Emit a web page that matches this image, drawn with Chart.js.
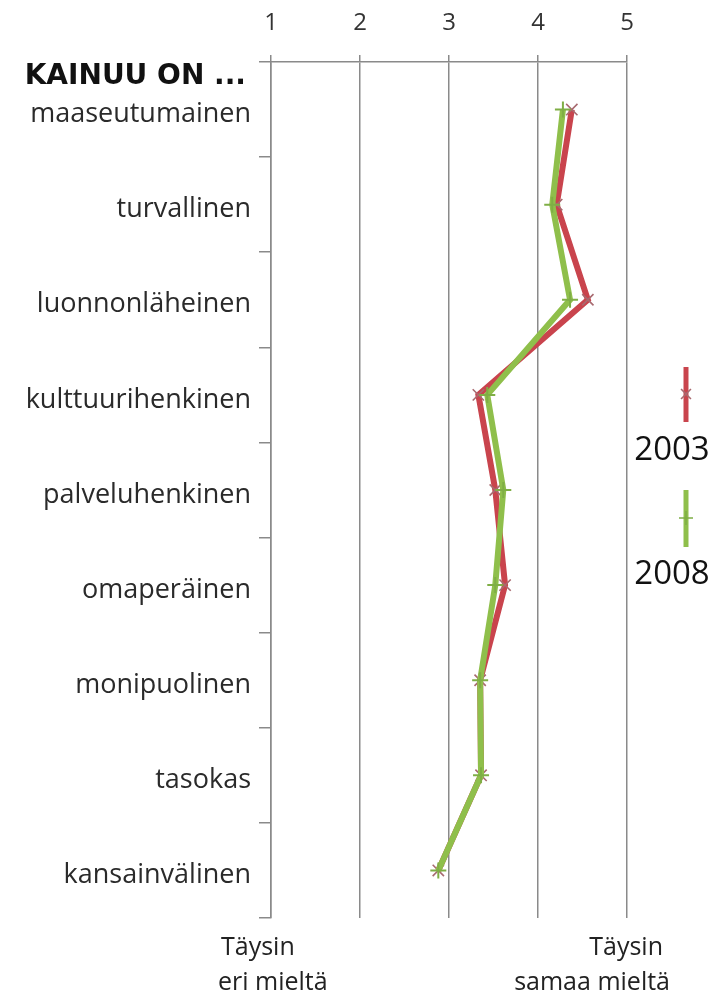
<!DOCTYPE html>
<html><head><meta charset="utf-8">
<script src="https://cdn.jsdelivr.net/npm/chart.js@4"></script>
<style>html,body{margin:0;padding:0;background:#fff}#wrap{width:714px;height:996px;position:relative}</style>
</head><body><div id="wrap"><canvas id="c" width="714" height="996"></canvas></div>
<script>
const categories = ['maaseutumainen','turvallinen','luonnonläheinen','kulttuurihenkinen','palveluhenkinen','omaperäinen','monipuolinen','tasokas','kansainvälinen'];
const seriesNames = ['2003','2008'];
const values2003 = [4.38, 4.21, 4.56, 3.33, 3.52, 3.63, 3.35, 3.36, 2.88];
const values2008 = [4.28, 4.16, 4.36, 3.43, 3.61, 3.52, 3.35, 3.36, 2.88];
const xTickValues = [1, 2, 3, 4, 5];
const headerText = 'KAINUU ON ...';
const lowEndLabel = ['Täysin', 'eri mieltä'];
const highEndLabel = ['Täysin', 'samaa mieltä'];

const RED = '#c9444d', GREEN = '#8fbf4b', GRID = '#8a8a8a';
const FONT = "'Open Sans', sans-serif";

function drawMarker(ctx, style, x, y, r, color) {
  ctx.save();
  ctx.strokeStyle = color; ctx.lineWidth = 1.6;
  ctx.beginPath();
  if (style === 'crossRot') {
    const d = r * 0.7071;
    ctx.moveTo(x - d, y - d); ctx.lineTo(x + d, y + d);
    ctx.moveTo(x + d, y - d); ctx.lineTo(x - d, y + d);
  } else {
    ctx.moveTo(x - r, y); ctx.lineTo(x + r, y);
    ctx.moveTo(x, y - r); ctx.lineTo(x, y + r);
  }
  ctx.stroke();
  ctx.restore();
}

const extras = {
  id: 'extras',
  afterDraw(chart) {
    const ctx = chart.ctx;
    const xs = chart.scales.x;
    ctx.save();
    // header
    ctx.fillStyle = '#111';
    ctx.font = "bold 28px 'DejaVu Sans', sans-serif";
    ctx.textAlign = 'right';
    ctx.textBaseline = 'alphabetic';
    ctx.fillText(headerText, 246, 84);
    // end labels
    ctx.fillStyle = '#222';
    ctx.font = '25px ' + FONT;
    ctx.textAlign = 'left';
    ctx.fillText(lowEndLabel[0], xs.getPixelForValue(1) - 50, 955);
    ctx.fillText(lowEndLabel[1], xs.getPixelForValue(1) - 53, 990);
    ctx.textAlign = 'right';
    ctx.fillText(highEndLabel[0], xs.getPixelForValue(5) + 36, 955);
    ctx.fillText(highEndLabel[1], xs.getPixelForValue(5) + 43, 990);
    // legend (vertical samples)
    const legendY = [[367, 422, 394, 451], [490, 547, 518, 575]];
    chart.data.datasets.forEach((ds, i) => {
      const [y0, y1, ym, ty] = legendY[i];
      ctx.strokeStyle = ds.borderColor; ctx.lineWidth = 5; ctx.lineCap = 'butt';
      ctx.beginPath(); ctx.moveTo(686, y0); ctx.lineTo(686, y1); ctx.stroke();
      drawMarker(ctx, ds.pointStyle, 686, ym, 7, ds.pointBorderColor);
      ctx.fillStyle = '#111';
      ctx.font = '33px ' + FONT;
      ctx.textAlign = 'center'; ctx.textBaseline = 'middle';
      ctx.fillText(ds.label, 672, ty);
    });
    ctx.restore();
  }
};

new Chart(document.getElementById('c'), {
  type: 'line',
  data: {
    labels: categories,
    datasets: [
      { label: seriesNames[0], data: values2003, borderColor: RED, backgroundColor: RED, borderWidth: 6,
        pointStyle: 'crossRot', pointRadius: 8, pointBorderColor: '#a86a70', pointBorderWidth: 1.6, order: 1, tension: 0 },
      { label: seriesNames[1], data: values2008, borderColor: GREEN, backgroundColor: GREEN, borderWidth: 6,
        pointStyle: 'cross', pointRadius: 8, pointBorderColor: '#7fae45', pointBorderWidth: 2, order: 0, tension: 0 }
    ]
  },
  options: {
    indexAxis: 'y',
    responsive: false,
    animation: false,
    devicePixelRatio: 1,
    layout: { padding: { left: 0, right: 87, top: 0, bottom: 78 } },
    plugins: { legend: { display: false }, tooltip: { enabled: false } },
    scales: {
      x: {
        type: 'linear', position: 'top', min: 1, max: 5,
        afterBuildTicks: s => { s.ticks = xTickValues.map(v => ({ value: v })); },
        ticks: { font: { family: FONT, size: 24 }, color: '#333', padding: 17 },
        grid: { color: GRID, lineWidth: 1.5, tickLength: 7 },
        border: { color: GRID, width: 1.5 },
        afterFit: s => { s.height = 62; }
      },
      y: {
        type: 'category', offset: true,
        grid: { drawOnChartArea: false, offset: true, tickLength: 12, color: GRID, lineWidth: 1.5 },
        border: { color: GRID, width: 1.5 },
        ticks: { font: { family: FONT, size: 27 }, color: '#2a2a2a', padding: 8, labelOffset: 5 },
        afterFit: s => { s.width = 271; }
      }
    }
  },
  plugins: [extras]
});
</script></body></html>
